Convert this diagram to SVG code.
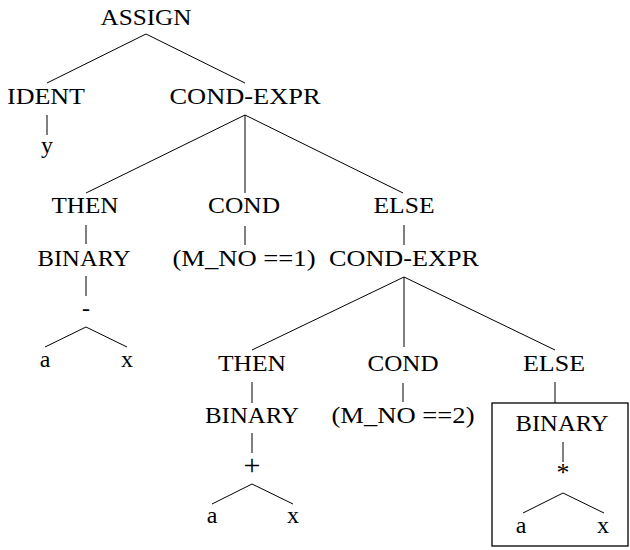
<svg xmlns="http://www.w3.org/2000/svg" width="630" height="550" viewBox="0 0 630 550">
<style>
.c line,.c polyline{stroke:#000;stroke-width:1;fill:none}
.box{fill:none;stroke:#000;stroke-width:1.3}
</style>
<rect width="630" height="550" fill="#fff"/>
<g class="c" id="connectors">
<polyline points="47,83 146,34 245,83"/>
<line x1="47" y1="115" x2="47" y2="135"/>
<line x1="245" y1="115" x2="86" y2="193"/>
<line x1="245" y1="115" x2="245" y2="193"/>
<line x1="245" y1="115" x2="403" y2="193"/>
<line x1="86" y1="225" x2="86" y2="244"/>
<line x1="245" y1="226" x2="245" y2="245"/>
<line x1="404" y1="225" x2="404" y2="245"/>
<line x1="86" y1="276" x2="86" y2="296"/>
<polyline points="45,347 86,327 127,347"/>
<line x1="404" y1="277" x2="252" y2="350"/>
<line x1="404" y1="277" x2="404" y2="347"/>
<line x1="404" y1="277" x2="555" y2="350"/>
<line x1="252" y1="382" x2="252" y2="403"/>
<line x1="403" y1="383" x2="403" y2="402"/>
<line x1="555" y1="382" x2="555" y2="403"/>
<line x1="252" y1="433" x2="252" y2="453"/>
<polyline points="212,504 252,484 293,504"/>
<line x1="563" y1="442" x2="563" y2="462"/>
<polyline points="523,513 563,493 604,513"/>
</g>
<g font-family="'Liberation Serif', 'DejaVu Serif', serif" font-size="24" fill="#000" text-anchor="middle">
<g id="assign"><text x="146" y="25" textLength="91" lengthAdjust="spacingAndGlyphs">ASSIGN</text></g>
<g id="ident"><text x="46" y="104" textLength="78" lengthAdjust="spacingAndGlyphs">IDENT</text></g>
<g id="y"><text x="47" y="153">y</text></g>
<g id="condexpr1"><text x="245" y="104" textLength="151" lengthAdjust="spacingAndGlyphs">COND-EXPR</text></g>
<g id="then1"><text x="85" y="213" textLength="67" lengthAdjust="spacingAndGlyphs">THEN</text></g>
<g id="cond1"><text x="244" y="213" textLength="72" lengthAdjust="spacingAndGlyphs">COND</text></g>
<g id="else1"><text x="404" y="213" textLength="61" lengthAdjust="spacingAndGlyphs">ELSE</text></g>
<g id="binary1"><text x="84" y="266" textLength="93" lengthAdjust="spacingAndGlyphs">BINARY</text></g>
<g id="mno1"><text x="244" y="266" textLength="143" lengthAdjust="spacingAndGlyphs">(M_NO ==1)</text></g>
<g id="condexpr2"><text x="404" y="266" textLength="150" lengthAdjust="spacingAndGlyphs">COND-EXPR</text></g>
<g id="minus"><text x="86" y="316">-</text></g>
<g id="a1"><text x="45" y="367">a</text></g>
<g id="x1"><text x="127" y="367">x</text></g>
<g id="then2"><text x="252" y="371" textLength="68" lengthAdjust="spacingAndGlyphs">THEN</text></g>
<g id="cond2"><text x="403" y="371" textLength="71" lengthAdjust="spacingAndGlyphs">COND</text></g>
<g id="else2"><text x="554" y="371" textLength="62" lengthAdjust="spacingAndGlyphs">ELSE</text></g>
<g id="binary2"><text x="252" y="423" textLength="94" lengthAdjust="spacingAndGlyphs">BINARY</text></g>
<g id="mno2"><text x="403" y="423" textLength="143" lengthAdjust="spacingAndGlyphs">(M_NO ==2)</text></g>
<g id="plus"><text x="252" y="475" font-size="30">+</text></g>
<g id="a2"><text x="212" y="523">a</text></g>
<g id="x2"><text x="293" y="523">x</text></g>
<g id="boxed">
<rect class="box" x="492" y="403" width="136" height="143"/>
<text x="562" y="431" textLength="93" lengthAdjust="spacingAndGlyphs">BINARY</text>
<text x="563" y="481" font-size="26">*</text>
<text x="521" y="533">a</text>
<text x="603" y="533">x</text>
</g>
</g>
</svg>
